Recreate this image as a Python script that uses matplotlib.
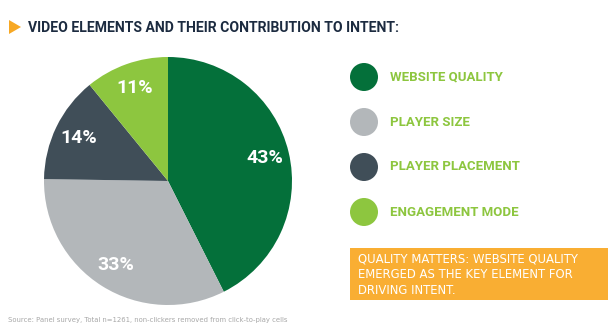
import matplotlib
matplotlib.use("Agg")
import matplotlib.pyplot as plt
from matplotlib.patches import Circle, Rectangle, Polygon

# data
labels = ["WEBSITE QUALITY", "PLAYER SIZE", "PLAYER PLACEMENT", "ENGAGEMENT MODE"]
shares = [43, 33, 14, 11]
colors = ["#04703a", "#b3b7ba", "#404e58", "#8dc63f"]

title = "VIDEO ELEMENTS AND THEIR CONTRIBUTION TO INTENT:"
note = "QUALITY MATTERS: WEBSITE QUALITY\nEMERGED AS THE KEY ELEMENT FOR\nDRIVING INTENT."
source = "Source: Panel survey, Total n=1261, non-clickers removed from click-to-play cells"

W, H = 616, 333
heavy = ["Roboto", "DejaVu Sans"]

fig = plt.figure(figsize=(W / 100, H / 100), dpi=100, facecolor="white")
renderer = fig.canvas.get_renderer()


def fit_width(txt, width_px):
    # scale a text so that it spans width_px pixels
    w = txt.get_window_extent(renderer).width
    txt.set_fontsize(txt.get_fontsize() * width_px / w)


# pie, centre (168,181) px from top-left, radius 124 px
cx, cy, r = 168, 181, 124
ax = fig.add_axes([(cx - r) / W, (H - cy - r) / H, 2 * r / W, 2 * r / H])
wedges, _, autotexts = ax.pie(shares, colors=colors, startangle=90, counterclock=False,
                              autopct=lambda p: "%d%%" % round(p * sum(shares) / 100),
                              pctdistance=0.8, wedgeprops=dict(linewidth=0))
for t in autotexts:
    t.set_color("white")
    t.set_fontsize(14)
    t.set_fontweight("bold")
    t.set_family(heavy)
ax.set_aspect("equal")
ax.set_xlim(-1, 1)
ax.set_ylim(-1, 1)

# overlay axes in pixel coords for the rest
ov = fig.add_axes([0, 0, 1, 1], facecolor="none")
ov.set_xlim(0, W)
ov.set_ylim(H, 0)
ov.axis("off")

ov.add_patch(Polygon([[9, 20], [9, 34], [21, 27]], closed=True, color="#f7a824", lw=0))
tt = ov.text(28, 28, title, fontsize=12, fontweight="bold", color="#1c2b40",
             family=heavy, va="center", ha="left")
fit_width(tt, 372)

for i, lab in enumerate(labels):
    y = 77 + i * 45
    ov.add_patch(Circle((364, y), 14, color=colors[i], lw=0))
    ov.text(390, y, lab, fontsize=9.5, fontweight="bold", color="#8dc63f",
            family=heavy, va="center", ha="left")

ov.add_patch(Rectangle((350, 248), 258, 52, color="#f9ae33", lw=0))
ov.text(358, 274.5, note, fontsize=8.4, color="white", va="center", ha="left",
        linespacing=1.3)

ov.text(8, 320, source, fontsize=4.95, color="#a8a8a8", va="center", ha="left")

fig.savefig("out.png", dpi=100, facecolor="white")
